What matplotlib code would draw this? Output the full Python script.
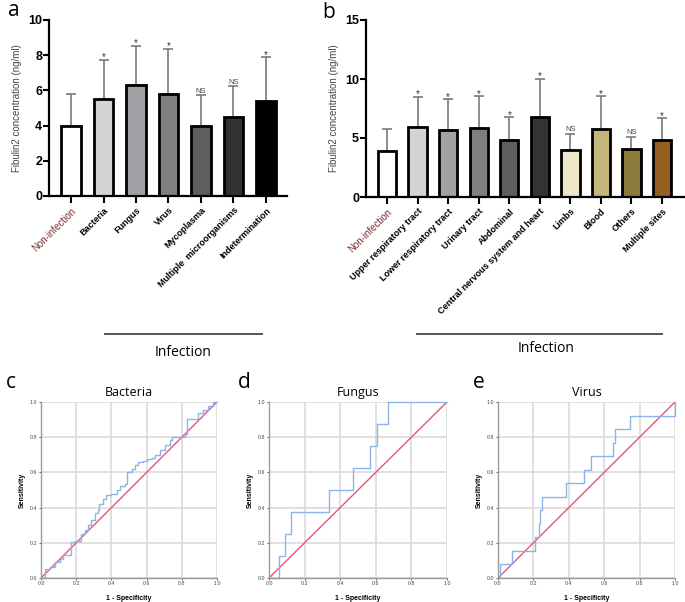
import matplotlib
matplotlib.use('Agg')
import matplotlib.pyplot as plt
import numpy as np

plt.rcParams['font.family'] = ['Liberation Sans', 'DejaVu Sans']

# panel a: Fibulin2 by pathogen
path_labels = ['Non-infection', 'Bacteria', 'Fungus', 'Virus', 'Mycoplasma',
               'Multiple  microorganisms', 'Indetermination']
path_mean = [3.96, 5.51, 6.32, 5.79, 3.96, 4.47, 5.38]
path_sd = [1.86, 2.23, 2.21, 2.57, 1.76, 1.76, 2.51]
path_sig = ['', '*', '*', '*', 'NS', 'NS', '*']
path_colors = ['#ffffff', '#d4d4d4', '#a2a2a6', '#7f7f7f', '#5e5e5e', '#323232', '#000000']

# panel b: Fibulin2 by infection site
site_labels = ['Non-infection', 'Upper respiratory tract', 'Lower respiratory tract',
               'Urinary tract', 'Abdominal', 'Central nervous system and heart',
               'Limbs', 'Blood', 'Others', 'Multiple sites']
site_mean = [3.88, 5.95, 5.64, 5.84, 4.84, 6.77, 3.99, 5.75, 4.08, 4.82]
site_sd = [1.92, 2.55, 2.63, 2.72, 1.90, 3.26, 1.34, 2.81, 1.02, 1.84]
site_sig = ['', '*', '*', '*', '*', '*', 'NS', '*', 'NS', '*']
site_colors = ['#ffffff', '#d4d4d4', '#a2a2a6', '#7f7f7f', '#5e5e5e', '#333333',
               '#ede6c9', '#c2b67b', '#8a7b3b', '#955f22']

# ROC curves (1 - specificity, sensitivity)
bac_fpr = [0, 0.02, 0.05, 0.078, 0.106, 0.125, 0.168, 0.172, 0.195, 0.23, 0.25, 0.267,
           0.286, 0.305, 0.324, 0.33, 0.35, 0.37, 0.395, 0.43, 0.447, 0.477, 0.49, 0.515,
           0.534, 0.553, 0.578, 0.6, 0.63, 0.648, 0.676, 0.705, 0.733, 0.743, 0.8, 0.82,
           0.828, 0.866, 0.894, 0.922, 0.95, 0.98, 1.0]
bac_tpr = [0, 0.05, 0.065, 0.09, 0.11, 0.13, 0.136, 0.206, 0.21, 0.25, 0.27, 0.30,
           0.33, 0.37, 0.386, 0.42, 0.45, 0.47, 0.48, 0.5, 0.52, 0.534, 0.60, 0.62,
           0.644, 0.657, 0.663, 0.676, 0.68, 0.70, 0.73, 0.757, 0.786, 0.80, 0.80, 0.82,
           0.905, 0.905, 0.937, 0.956, 0.975, 1.0, 1.0]
fun_fpr = [0, 0.056, 0.092, 0.126, 0.338, 0.474, 0.568, 0.605, 0.671, 1.0]
fun_tpr = [0, 0.125, 0.25, 0.375, 0.5, 0.625, 0.75, 0.875, 1.0, 1.0]
vir_fpr = [0, 0.01, 0.08, 0.21, 0.232, 0.24, 0.25, 0.387, 0.487, 0.525, 0.65, 0.66, 0.745, 1.0]
vir_tpr = [0, 0.077, 0.154, 0.231, 0.308, 0.385, 0.462, 0.538, 0.615, 0.692, 0.769,
           0.846, 0.923, 1.0]

W, H = 685, 602
fig = plt.figure(figsize=(W / 100, H / 100), dpi=100)


def px_axes(l, t, r, b):
    return fig.add_axes([l / W, 1 - b / H, (r - l) / W, (b - t) / H])


def bar_panel(ax, labels, means, sds, sigs, colors, ymax, step, xlim):
    x = np.arange(len(labels))
    ax.errorbar(x, means, yerr=[np.zeros(len(sds)), sds], fmt='none', ecolor='#7a7a7a',
                elinewidth=1.2, capsize=3.5, capthick=1.2, zorder=1)
    ax.bar(x, means, width=0.6, color=colors, edgecolor='black', linewidth=2, zorder=2)
    for xi, m, s, sig in zip(x, means, sds, sigs):
        if sig == '*':
            ax.annotate(sig, (xi, m + s), xytext=(0, -0.5), textcoords='offset points',
                        ha='center', va='baseline', fontsize=7, color='#333333')
        elif sig:
            ax.annotate(sig, (xi, m + s), xytext=(0, 2), textcoords='offset points',
                        ha='center', va='baseline', fontsize=5.5, color='#444444')
    ax.set_xlim(*xlim)
    ax.set_ylim(0, ymax)
    ax.set_yticks(np.arange(0, ymax + 0.1, step))
    ax.set_xticks(x)
    ax.set_xticklabels(labels, rotation=45, ha='right', rotation_mode='anchor',
                       fontsize=6.5, fontweight='bold')
    tl = ax.get_xticklabels()[0]
    tl.set_color('#7a2c2c')
    tl.set_fontweight('normal')
    tl.set_fontsize(7)
    for lab in ax.get_yticklabels():
        lab.set_fontweight('bold')
    ax.tick_params(axis='y', labelsize=9, width=1.5, length=4, pad=1)
    ax.tick_params(axis='x', width=1.5, length=5, pad=2)
    for s in ['top', 'right']:
        ax.spines[s].set_visible(False)
    for s in ['left', 'bottom']:
        ax.spines[s].set_linewidth(1.6)
    ax.set_ylabel('Fibulin2 concentration (ng/ml)', fontsize=7, color='#444444', labelpad=4)


ax_a = px_axes(49, 20, 287, 196)
bar_panel(ax_a, path_labels, path_mean, path_sd, path_sig, path_colors, 10, 2, (-0.68, 6.65))
trans = ax_a.get_xaxis_transform()
ax_a.plot([1.05, 5.88], [-0.784, -0.784], transform=trans, color='#555555', lw=1.4, clip_on=False)
ax_a.text(3.45, -0.89, 'Infection', transform=trans, ha='center', va='center',
          fontsize=10, family=['Open Sans', 'DejaVu Sans'])

ax_b = px_axes(366, 20, 684, 197)
bar_panel(ax_b, site_labels, site_mean, site_sd, site_sig, site_colors, 15, 5, (-0.69, 9.72))
trans = ax_b.get_xaxis_transform()
ax_b.plot([0.98, 9.0], [-0.774, -0.774], transform=trans, color='#555555', lw=1.4, clip_on=False)
ax_b.text(5.22, -0.855, 'Infection', transform=trans, ha='center', va='center',
          fontsize=10, family=['Open Sans', 'DejaVu Sans'])


def roc_panel(ax, fpr, tpr, title):
    ax.set_xlim(0, 1)
    ax.set_ylim(0, 1)
    ticks = np.arange(0, 1.01, 0.2)
    ax.set_xticks(ticks)
    ax.set_yticks(ticks)
    ax.set_xticklabels(['%.1f' % t for t in ticks])
    ax.set_yticklabels(['%.1f' % t for t in ticks])
    ax.grid(True, color='#dadada', lw=1.2)
    ax.set_axisbelow(True)
    ax.tick_params(labelsize=3.8, length=1.5, width=0.6, pad=1, colors='#444444')
    for s in ['top', 'right']:
        ax.spines[s].set_visible(False)
    for s in ['left', 'bottom']:
        ax.spines[s].set_color('#9a9a9a')
        ax.spines[s].set_linewidth(1.0)
    ax.axline((0, 0), slope=1, color='#e2567c', lw=1.0)
    ax.plot(fpr, tpr, drawstyle='steps-post', color='#8cb4e8', lw=1.0, clip_on=False)
    ax.set_title(title, fontsize=9, family=['Open Sans', 'DejaVu Sans'], pad=4)
    ax.set_xlabel('1 - Specificity', fontsize=5, fontweight='bold', labelpad=6)
    ax.set_ylabel('Sensitivity', fontsize=5, fontweight='bold', labelpad=3)


roc_panel(px_axes(41, 402, 217, 578), bac_fpr, bac_tpr, 'Bacteria')
roc_panel(px_axes(269, 402, 447, 578), fun_fpr, fun_tpr, 'Fungus')
roc_panel(px_axes(498, 402, 675, 578), vir_fpr, vir_tpr, 'Virus')

for lbl, x, y in [('a', 8, 10), ('b', 322, 12), ('c', 6, 382), ('d', 238, 382), ('e', 473, 382)]:
    fig.text(x / W, 1 - y / H, lbl, fontsize=15, ha='left', va='center',
             family=['Open Sans', 'DejaVu Sans'])

fig.savefig('out.png', dpi=100)
